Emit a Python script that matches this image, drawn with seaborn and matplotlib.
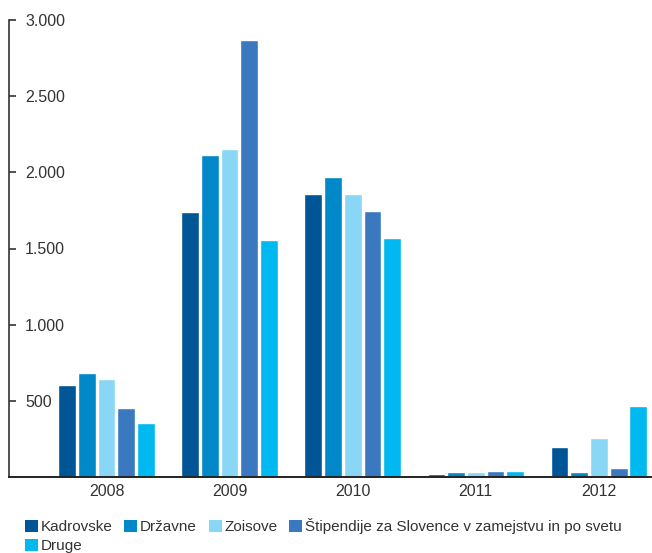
import matplotlib
matplotlib.use("Agg")
import matplotlib.pyplot as plt
import seaborn as sns
import pandas as pd
from matplotlib.patches import Patch
from matplotlib.ticker import FuncFormatter

years = ["2008", "2009", "2010", "2011", "2012"]
series = ["Kadrovske", "Državne", "Zoisove",
          "Štipendije za Slovence v zamejstvu in po svetu", "Druge"]
kadrovske = [607, 1741, 1860, 20, 198]
drzavne = [680, 2117, 1972, 30, 30]
zoisove = [646, 2150, 1860, 30, 257]
stipendije = [455, 2869, 1748, 40, 62]
druge = [356, 1557, 1570, 40, 468]
colors = ["#005596", "#0088c8", "#8ad7f5", "#3a78c0", "#00b9f0"]

values = [kadrovske, drzavne, zoisove, stipendije, druge]
rows = []
for s, vals in zip(series, values):
    for y, v in zip(years, vals):
        rows.append({"year": y, "series": s, "value": v})
df = pd.DataFrame(rows)

sns.set_theme(style="white")
plt.rcParams["font.family"] = ["Liberation Sans", "DejaVu Sans"]

fig = plt.figure(figsize=(6.52, 5.53), dpi=100)
ax = fig.add_axes([9 / 652, 1 - 477 / 553, 1 - 9 / 652, (477 - 20) / 553])

sns.barplot(data=df, x="year", y="value", hue="series", hue_order=series,
            order=years, palette=colors, width=0.8, gap=0.1, saturation=1,
            ax=ax, legend=False)

ax.set_ylim(0, 3000)
ax.set_xlim(-0.792, 4.431)
ax.set_xlabel("")
ax.set_ylabel("")
ax.set_yticks([500, 1000, 1500, 2000, 2500, 3000])
ax.yaxis.set_major_formatter(FuncFormatter(lambda v, p: f"{int(v):,}".replace(",", ".")))
for sp in ["top", "right"]:
    ax.spines[sp].set_visible(False)
ax.spines["left"].set_color("#333333")
ax.spines["left"].set_linewidth(1.2)
ax.spines["bottom"].set_color("#222222")
ax.spines["bottom"].set_linewidth(1.4)
ax.tick_params(axis="y", direction="in", length=5, width=1.2, color="#333333",
               pad=-11.5, labelsize=11.5, labelcolor="#333333", left=True)
for lab in ax.get_yticklabels():
    lab.set_horizontalalignment("left")
ax.tick_params(axis="x", length=0, pad=5, labelsize=11.5, labelcolor="#333333")

handles = [Patch(facecolor=c, edgecolor="none") for c in colors]
order = [0, 4, 1, 2, 3]
fig.legend([handles[i] for i in order], [series[i] for i in order],
           loc="lower left", bbox_to_anchor=(25 / 652, 0.0),
           ncol=4, frameon=False, fontsize=11, handlelength=0.85, handleheight=0.85,
           handletextpad=0.15, columnspacing=0.8, labelspacing=0.3,
           borderaxespad=0, borderpad=0, labelcolor="#333333")

fig.savefig("out.png", dpi=100)
